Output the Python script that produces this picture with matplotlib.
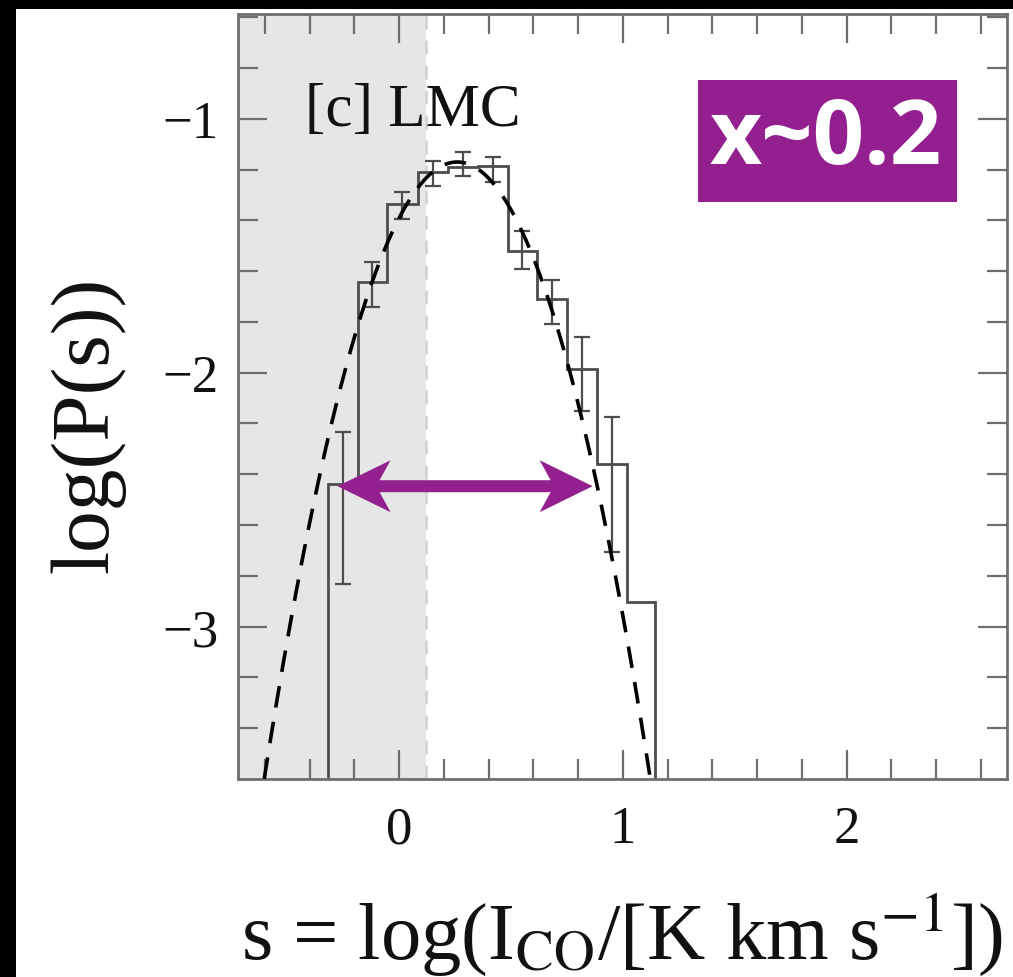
import matplotlib
matplotlib.use("Agg")
import matplotlib.pyplot as plt
import matplotlib.patches as mpatches
import numpy as np

plt.rcParams["font.family"] = ["Liberation Serif", "DejaVu Serif"]
plt.rcParams["mathtext.fontset"] = "stix"

# ── data ──────────────────────────────────────────────────────────────────────
BIN_EDGES = [-0.32, -0.186, -0.054, 0.084, 0.218, 0.352, 0.486,
             0.617, 0.752, 0.884, 1.018, 1.145]
LOGP      = [-2.437, -1.642, -1.335, -1.209, -1.190, -1.185,
             -1.520, -1.709, -1.984, -2.358, -2.902]
ERR_LO    = [-2.831, -1.740, -1.394, -1.264, -1.224, -1.248,
             -1.590, -1.807, -2.150, -2.705, np.nan]
ERR_HI    = [-2.232, -1.563, -1.287, -1.165, -1.130, -1.150,
             -1.440, -1.634, -1.858, -2.173, np.nan]

# lognormal fit (dashed)
FIT_MU    = 0.26
FIT_SIGMA = 0.258
FIT_PEAK  = -1.17

COMPLETENESS = 0.12          # shaded: below sensitivity limit
ARROW_Y   = -2.447
ARROW_X   = [-0.275, 0.865]

# ── colours ───────────────────────────────────────────────────────────────────
C_SHADE  = "#e6e6e6"
C_HIST   = "#4d4d4d"
C_AXIS   = "#6e6e6e"
C_PURPLE = "#93208e"

fig = plt.figure(figsize=(10.13, 9.78), dpi=100)
fig.patch.set_facecolor("white")
ax = fig.add_axes([0.235, 0.2025, 0.759, 0.7822])

XLIM = (-0.72, 2.717)
YLIM = (-3.6, -0.587)
ax.set_xlim(*XLIM)
ax.set_ylim(*YLIM)

# shaded region
ax.axvspan(XLIM[0], COMPLETENESS, color=C_SHADE, lw=0, zorder=0)
ax.axvline(COMPLETENESS, color="#d4d4d4", lw=2, ls=(0, (5, 4)), zorder=0.5)

# histogram (steps)
edges = np.array(BIN_EDGES)
vals = np.array(LOGP)
ax.stairs(vals, edges, baseline=YLIM[0] - 1, color=C_HIST, lw=2.0, zorder=2)

# error bars at bin centres
centres = 0.5 * (edges[:-1] + edges[1:])
lo = np.array(ERR_LO)
hi = np.array(ERR_HI)
ok = ~np.isnan(lo)
ax.errorbar(centres[ok], vals[ok],
            yerr=[vals[ok] - lo[ok], hi[ok] - vals[ok]],
            fmt="none", ecolor=C_HIST, elinewidth=1.6, capsize=6,
            capthick=1.6, zorder=2)

# lognormal model
s = np.linspace(XLIM[0], XLIM[1], 600)
model = FIT_PEAK - (s - FIT_MU) ** 2 / (2 * FIT_SIGMA ** 2) * np.log10(np.e)
ax.plot(s, model, color="black", lw=2.6, ls=(0, (6, 4)), zorder=3)

# width arrow: notched double-headed arrow, built in pixel space
(xl, ya), (xr, _) = ax.transData.transform([(ARROW_X[0], ARROW_Y),
                                            (ARROW_X[1], ARROW_Y)])
HL, HN, HW, TW = 53, 42, 26, 6
verts = [(xl, ya), (xl + HL, ya + HW), (xl + HN, ya + TW),
         (xr - HN, ya + TW), (xr - HL, ya + HW), (xr, ya),
         (xr - HL, ya - HW), (xr - HN, ya - TW), (xl + HN, ya - TW),
         (xl + HL, ya - HW)]
arrow = mpatches.Polygon(verts, closed=True, transform=None,
                         facecolor=C_PURPLE, edgecolor="none", zorder=5)
ax.add_artist(arrow)

# panel label
ax.text(-0.42, -1.024, "[c] LMC", fontsize=44, ha="left", va="baseline",
        color="#111111", zorder=4)

# ticks
ax.set_xticks([0, 1, 2])
ax.set_yticks([-1, -2, -3])
ax.set_xticks(np.arange(-0.6, 2.7, 0.2), minor=True)
ax.set_yticks(np.arange(-3.4, -0.59, 0.2), minor=True)
ax.tick_params(which="both", direction="in", top=True, right=True,
               color=C_AXIS, width=1.6, labelsize=38, labelcolor="#111111")
ax.tick_params(which="major", length=21)
ax.tick_params(which="minor", length=14.5)
ax.tick_params(axis="x", pad=19)
ax.tick_params(axis="y", pad=14)
ax.set_yticklabels(["\u22121", "\u22122", "\u22123"])
for sp in ax.spines.values():
    sp.set_color(C_AXIS)
    sp.set_linewidth(2.0)

# axis labels
fig.text(88 / 1013, 1 - 425 / 978, "log(P(s))", rotation=90,
         fontsize=60, ha="center", va="center", color="#111111")
fig.text(622 / 1013, 1 - 935 / 978,
         r"s = log(I$_{\rm CO}$/[K km s$^{-1}$])",
         fontsize=58, ha="center", va="center", color="#111111")

# purple annotation box
fig.patches.append(mpatches.Rectangle(
    (698 / 1013, 1 - 203 / 978), 259 / 1013, 122 / 978,
    transform=fig.transFigure, facecolor=C_PURPLE, edgecolor="none", zorder=5))
fig.text(826 / 1013, 1 - 141 / 978, "x~0.2", fontsize=65, fontweight="bold",
         family=["Open Sans", "DejaVu Sans"], color="white",
         ha="center", va="center", zorder=6)

# black frame bands (from the cropped screenshot)
fig.patches.append(mpatches.Rectangle(
    (0, 1 - 10 / 978), 1, 10 / 978, transform=fig.transFigure,
    facecolor="black", edgecolor="none", zorder=10))
fig.patches.append(mpatches.Rectangle(
    (0, 0), 16 / 1013, 1, transform=fig.transFigure,
    facecolor="black", edgecolor="none", zorder=10))

fig.savefig("out.png", dpi=100)
